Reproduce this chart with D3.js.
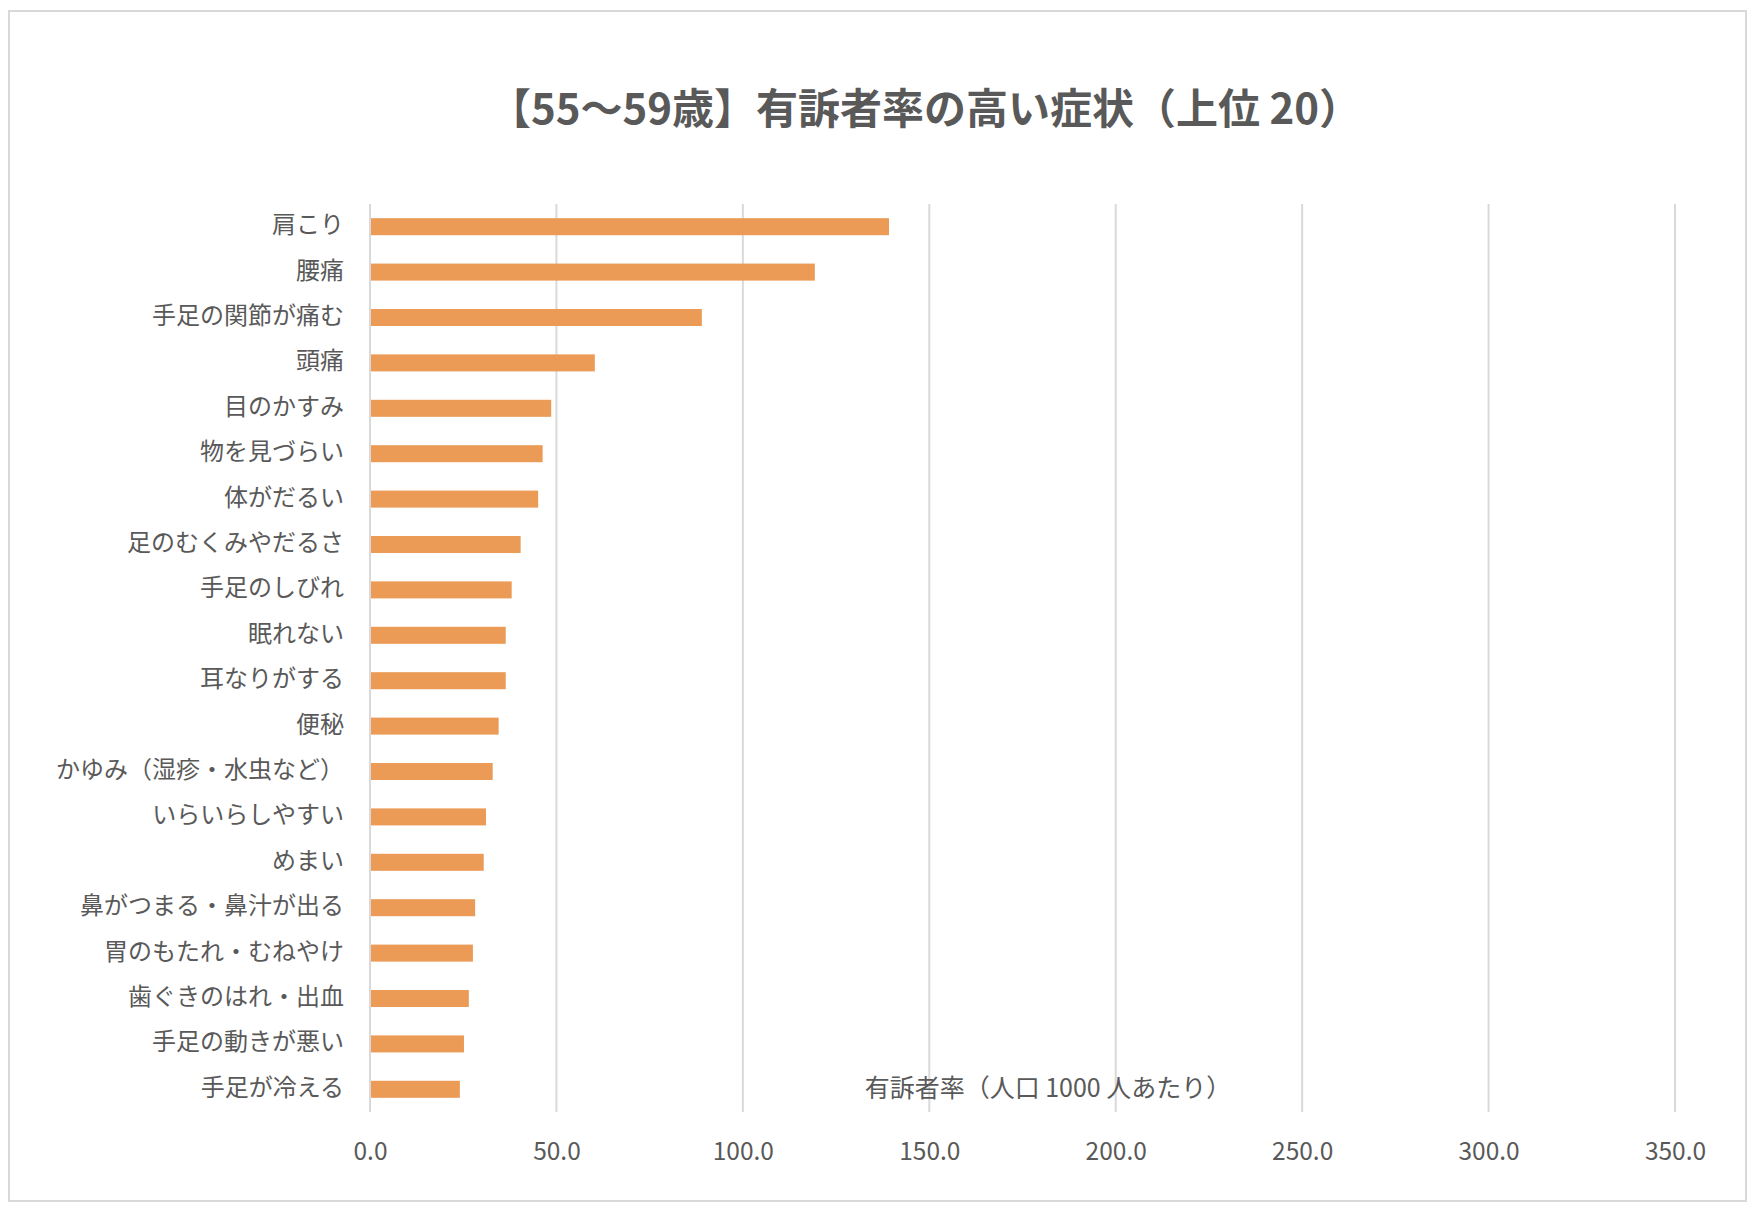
<!DOCTYPE html>
<html>
<head>
<meta charset="utf-8">
<script src="https://cdn.jsdelivr.net/npm/d3@7"></script>
<style>
  html, body { margin: 0; padding: 0; background: #fff; }
  svg { display: block; }
  text { font-family: "Noto Sans CJK JP", "Noto Sans", sans-serif; }
</style>
</head>
<body>
<svg id="chart" width="1752" height="1212"></svg>
<script>
const categories = [
  "肩こり", "腰痛", "手足の関節が痛む", "頭痛", "目のかすみ", "物を見づらい",
  "体がだるい", "足のむくみやだるさ", "手足のしびれ", "眠れない", "耳なりがする",
  "便秘", "かゆみ（湿疹・水虫など）", "いらいらしやすい", "めまい",
  "鼻がつまる・鼻汁が出る", "胃のもたれ・むねやけ", "歯ぐきのはれ・出血",
  "手足の動きが悪い", "手足が冷える"
];
const values = [
  139.2, 119.3, 89.0, 60.3, 48.6, 46.3, 45.1, 40.4, 38.0, 36.4, 36.4,
  34.5, 32.9, 31.1, 30.5, 28.2, 27.6, 26.5, 25.2, 24.1
];
const xTicks = [0, 50, 100, 150, 200, 250, 300, 350];
const titleText = "【55～59歳】有訴者率の高い症状（上位 20）";
const axisTitleText = "有訴者率（人口 1000 人あたり）";

const svg = d3.select("#chart");
const plot = { left: 370, right: 1675, top: 204, bottom: 1112 };

// outer border
svg.append("rect")
  .attr("x", 9).attr("y", 11).attr("width", 1737).attr("height", 1190)
  .attr("fill", "#fff").attr("stroke", "#d9d9d9").attr("stroke-width", 2);

const x = d3.scaleLinear().domain([0, 350]).range([plot.left, plot.right]);
const y = d3.scaleBand().domain(categories).range([plot.top, plot.bottom])
  .paddingInner(0.625).paddingOuter(0.3125);

// gridlines
svg.append("g").selectAll("line").data(xTicks).join("line")
  .attr("x1", d => x(d)).attr("x2", d => x(d))
  .attr("y1", plot.top).attr("y2", plot.bottom)
  .attr("stroke", "#d9d9d9").attr("stroke-width", 2);

// bars
svg.append("g").selectAll("rect").data(values).join("rect")
  .attr("x", x(0) + 1)
  .attr("y", (d, i) => y(categories[i]))
  .attr("width", d => x(d) - x(0) - 1)
  .attr("height", y.bandwidth())
  .attr("fill", "#eb9b56");

// x axis tick labels
const xAxis = d3.axisBottom(x).tickValues(xTicks).tickFormat(d3.format(".1f"))
  .tickSize(0).tickPadding(0);
const gx = svg.append("g").attr("transform", `translate(0, ${plot.bottom + 41})`).call(xAxis);
gx.select(".domain").remove();
gx.selectAll("text").attr("font-size", 24.5).attr("fill", "#595959")
  .attr("font-family", '"Noto Sans CJK JP", sans-serif')
  .attr("dy", "0").attr("dominant-baseline", "middle");

// y axis category labels
const yAxis = d3.axisLeft(y).tickSize(0).tickPadding(26);
const gy = svg.append("g").attr("transform", `translate(${plot.left}, 0)`).call(yAxis);
gy.select(".domain").remove();
gy.selectAll("text").attr("font-size", 24).attr("fill", "#595959")
  .attr("font-family", '"Noto Sans CJK JP", sans-serif')
  .attr("dy", "0").attr("dominant-baseline", "middle");

// title
svg.append("text")
  .attr("x", 925).attr("y", 113)
  .attr("text-anchor", "middle").attr("dominant-baseline", "middle")
  .attr("font-size", 42).attr("font-weight", 700).attr("fill", "#595959")
  .text(titleText);

// axis title (placed inside plot, as in reference)
svg.append("text")
  .attr("x", 1048).attr("y", 1090)
  .attr("text-anchor", "middle").attr("dominant-baseline", "middle")
  .attr("font-size", 25).attr("fill", "#595959")
  .text(axisTitleText);
</script>
</body>
</html>
